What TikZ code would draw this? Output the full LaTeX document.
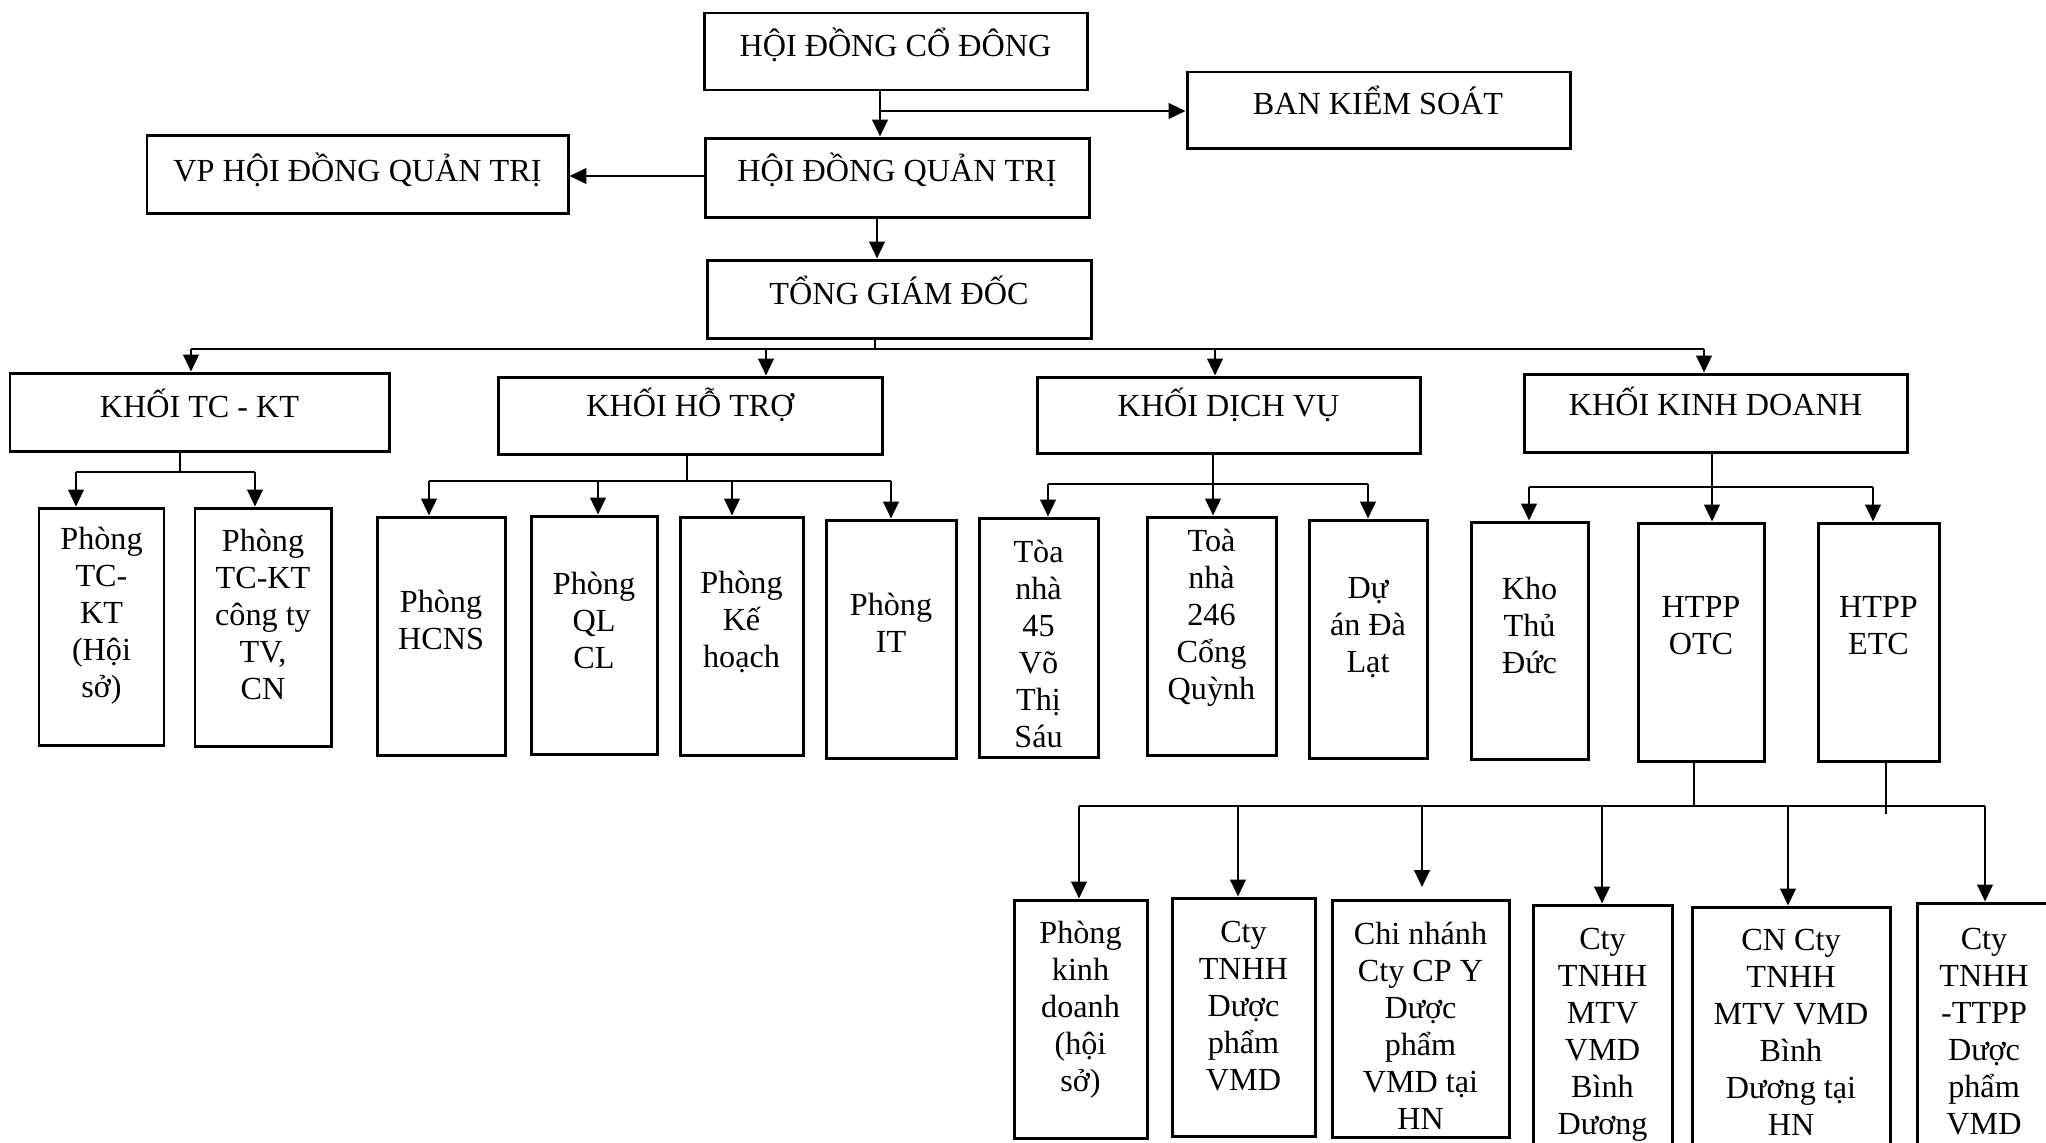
\documentclass[tikz,border=0pt]{standalone}
\usepackage{fontspec}
\setmainfont{Liberation Serif}
\usetikzlibrary{arrows.meta,fit}
\tikzset{
  bx/.style={draw, line width=0.85pt, inner sep=0pt},
  % north anchor = baseline of the last line
  txt/.style={anchor=north, inner sep=0pt, text height=0pt, align=center,
              font=\fontsize{9.15}{10.53}\selectfont},
  ln/.style={line width=0.7pt},
  arr/.style={ln, -{Triangle[width=4.4pt,length=4.8pt]}},
}
\begin{document}
\begin{tikzpicture}[x=0.01cm, y=-0.01cm]
\useasboundingbox (0,0) rectangle (2046,1142);
\fill[white] (0,0) rectangle (2046,1142);
\clip (0,0) rectangle (2046,1142);

% ---------- top levels ----------
\node[bx, fit={(704,13) (1087,90)}] (hdcd) {};
\node[txt] (hdcdt) at (895.5,55.5) {HỘI ĐỒNG CỔ ĐÔNG};
\node[bx, fit={(1187,72) (1570,148)}] (bks) {};
\node[txt] (bkst) at (1378,112.5) {BAN KIỂM SOÁT};
\node[bx, fit={(705,138) (1089,217)}] (hdqt) {};
\node[txt] (hdqtt) at (897,180.5) {HỘI ĐỒNG QUẢN TRỊ};
\node[bx, fit={(147,135) (568,213)}] (vp) {};
\node[txt] (vpt) at (357.5,180.5) {VP HỘI ĐỒNG QUẢN TRỊ};
\node[bx, fit={(707,260) (1091,338)}] (tgd) {};
\node[txt] (tgdt) at (899,302.5) {TỔNG GIÁM ĐỐC};

% ---------- khoi ----------
\node[bx, fit={(10,373) (389,451)}] (ktckt) {};
\node[txt] (ktcktt) at (199.5,415.5) {KHỐI TC - KT};
\node[bx, fit={(498,377) (882,454)}] (khtr) {};
\node[txt] (khtrt) at (690,415.5) {KHỐI HỖ TRỢ};
\node[bx, fit={(1037,377) (1420,453)}] (kdv) {};
\node[txt] (kdvt) at (1228.5,415.5) {KHỐI DỊCH VỤ};
\node[bx, fit={(1524,374) (1907,452)}] (kkd) {};
\node[txt] (kkdt) at (1715.5,413.5) {KHỐI KINH DOANH};

% ---------- phong ----------
\node[bx, fit={(39,508) (164,745)}] (tc1) {};
\node[txt] (tc1t) at (101.5,697) {Phòng\\TC-\\KT\\(Hội\\sở)};
\node[bx, fit={(195,508) (331,746)}] (tc2) {};
\node[txt] (tc2t) at (263,697) {Phòng\\TC-KT\\công ty\\TV,\\CN};
\node[bx, fit={(377,517) (505,755)}] (hcns) {};
\node[txt] (hcnst) at (441,647.5) {Phòng\\HCNS};
\node[bx, fit={(531,516) (657,754)}] (qlcl) {};
\node[txt] (qlclt) at (594,666.5) {Phòng\\QL\\CL};
\node[bx, fit={(680,517) (803,755)}] (kh) {};
\node[txt] (kht) at (741.5,666.5) {Phòng\\Kế\\hoạch};
\node[bx, fit={(826,520) (956,758)}] (it) {};
\node[txt] (itt) at (891,650.5) {Phòng\\IT};
\node[bx, fit={(979,518) (1098,757)}] (tn45) {};
\node[txt] (tn45t) at (1038.5,745.5) {Tòa\\nhà\\45\\Võ\\Thị\\Sáu};
\node[bx, fit={(1147,517) (1276,755)}] (tn246) {};
\node[txt] (tn246t) at (1211.5,698.5) {Toà\\nhà\\246\\Cổng\\Quỳnh};
\node[bx, fit={(1309,520) (1427,758)}] (dalat) {};
\node[txt] (dalatt) at (1368,671.5) {Dự\\án Đà\\Lạt};
\node[bx, fit={(1471,522) (1588,759)}] (kho) {};
\node[txt] (khot) at (1529.5,671.5) {Kho\\Thủ\\Đức};
\node[bx, fit={(1638,523) (1764,761)}] (otc) {};
\node[txt] (otct) at (1701,652.5) {HTPP\\OTC};
\node[bx, fit={(1818,523) (1939,761)}] (etc) {};
\node[txt] (etct) at (1878.5,652.5) {HTPP\\ETC};

% ---------- bottom ----------
\node[bx, fit={(1014,900) (1147,1138)}] (pkd) {};
\node[txt] (pkdt) at (1080.5,1090.5) {Phòng\\kinh\\doanh\\(hội\\sở)};
\node[bx, fit={(1172,898) (1315,1136)}] (cvmd) {};
\node[txt] (cvmdt) at (1243.5,1088.5) {Cty\\TNHH\\Dược\\phẩm\\VMD};
\node[bx, fit={(1332,900) (1509,1137)}] (cnhn) {};
\node[txt] (cnhnt) at (1420.5,1127.5) {Chi nhánh\\Cty CP Y\\Dược\\phẩm\\VMD tại\\HN};
\node[bx, fit={(1533,905) (1672,1170)}] (mtv) {};
\node[txt] (mtvt) at (1602.5,1133.5) {Cty\\TNHH\\MTV\\VMD\\Bình\\Dương};
\node[bx, fit={(1692,907) (1890,1170)}] (cnbd) {};
\node[txt] (cnbdt) at (1791,1133.5) {CN Cty\\TNHH\\MTV VMD\\Bình\\Dương tại\\HN};
\node[bx, fit={(1917,903) (2075,1170)}] (ttpp) {};
\node[txt] (ttppt) at (1984,1132.5) {Cty\\TNHH\\-TTPP\\Dược\\phẩm\\VMD};

% ---------- connectors, top ----------
\coordinate (c1) at (880,111);
\draw[ln] (hdcd.south -| c1) -- (c1);
\draw[arr] (c1) -- (hdqt.north -| c1);
\draw[arr] (c1) -- (bks.west |- c1);
\coordinate (c2) at (0,176);
\draw[arr] (hdqt.west |- c2) -- (vp.east |- c2);
\coordinate (c3) at (877,0);
\draw[arr] (hdqt.south -| c3) -- (tgd.north -| c3);

% main bus
\coordinate (m0) at (875,349);
\coordinate (m1) at (191,349);
\coordinate (m2) at (766,349);
\coordinate (m3) at (1215,349);
\coordinate (m4) at (1704,349);
\draw[ln] (tgd.south -| m0) -- (m0);
\draw[ln] (m1) -- (m4);
\draw[arr] (m1) -- (ktckt.north -| m1);
\draw[arr] (m2) -- (khtr.north -| m2);
\draw[arr] (m3) -- (kdv.north -| m3);
\draw[arr] (m4) -- (kkd.north -| m4);

% khoi TC-KT
\coordinate (a0) at (180,472);
\coordinate (a1) at (76,472);
\coordinate (a2) at (255,472);
\draw[ln] (ktckt.south -| a0) -- (a0);
\draw[ln] (a1) -- (a2);
\draw[arr] (a1) -- (tc1.north -| a1);
\draw[arr] (a2) -- (tc2.north -| a2);

% khoi ho tro
\coordinate (h0) at (687,481);
\coordinate (h1) at (429,481);
\coordinate (h2) at (598,481);
\coordinate (h3) at (732,481);
\coordinate (h4) at (891,481);
\draw[ln] (khtr.south -| h0) -- (h0);
\draw[ln] (h1) -- (h4);
\draw[arr] (h1) -- (hcns.north -| h1);
\draw[arr] (h2) -- (qlcl.north -| h2);
\draw[arr] (h3) -- (kh.north -| h3);
\draw[arr] (h4) -- (it.north -| h4);

% khoi dich vu
\coordinate (v0) at (1213,484);
\coordinate (v1) at (1048,484);
\coordinate (v3) at (1368,484);
\draw[ln] (kdv.south -| v0) -- (v0);
\draw[ln] (v1) -- (v3);
\draw[arr] (v1) -- (tn45.north -| v1);
\draw[arr] (v0) -- (tn246.north -| v0);
\draw[arr] (v3) -- (dalat.north -| v3);

% khoi kinh doanh
\coordinate (k0) at (1712,487);
\coordinate (k1) at (1529,487);
\coordinate (k3) at (1873,487);
\draw[ln] (kkd.south -| k0) -- (k0);
\draw[ln] (k1) -- (k3);
\draw[arr] (k1) -- (kho.north -| k1);
\draw[arr] (k0) -- (otc.north -| k0);
\draw[arr] (k3) -- (etc.north -| k3);

% bottom bus
\coordinate (s1) at (1694,806);
\coordinate (s2) at (1886,814);
\draw[ln] (otc.south -| s1) -- (s1);
\draw[ln] (etc.south -| s2) -- (s2);
\coordinate (d1) at (1079,806);
\coordinate (d2) at (1238,806);
\coordinate (d3) at (1422,806);
\coordinate (d3e) at (1422,887);
\coordinate (d4) at (1602,806);
\coordinate (d5) at (1788,806);
\coordinate (d6) at (1985,806);
\draw[ln] (d1) -- (d6);
\draw[arr] (d1) -- (pkd.north -| d1);
\draw[arr] (d2) -- (cvmd.north -| d2);
\draw[arr] (d3) -- (d3e);
\draw[arr] (d4) -- (mtv.north -| d4);
\draw[arr] (d5) -- (cnbd.north -| d5);
\draw[arr] (d6) -- (ttpp.north -| d6);
\end{tikzpicture}
\end{document}
